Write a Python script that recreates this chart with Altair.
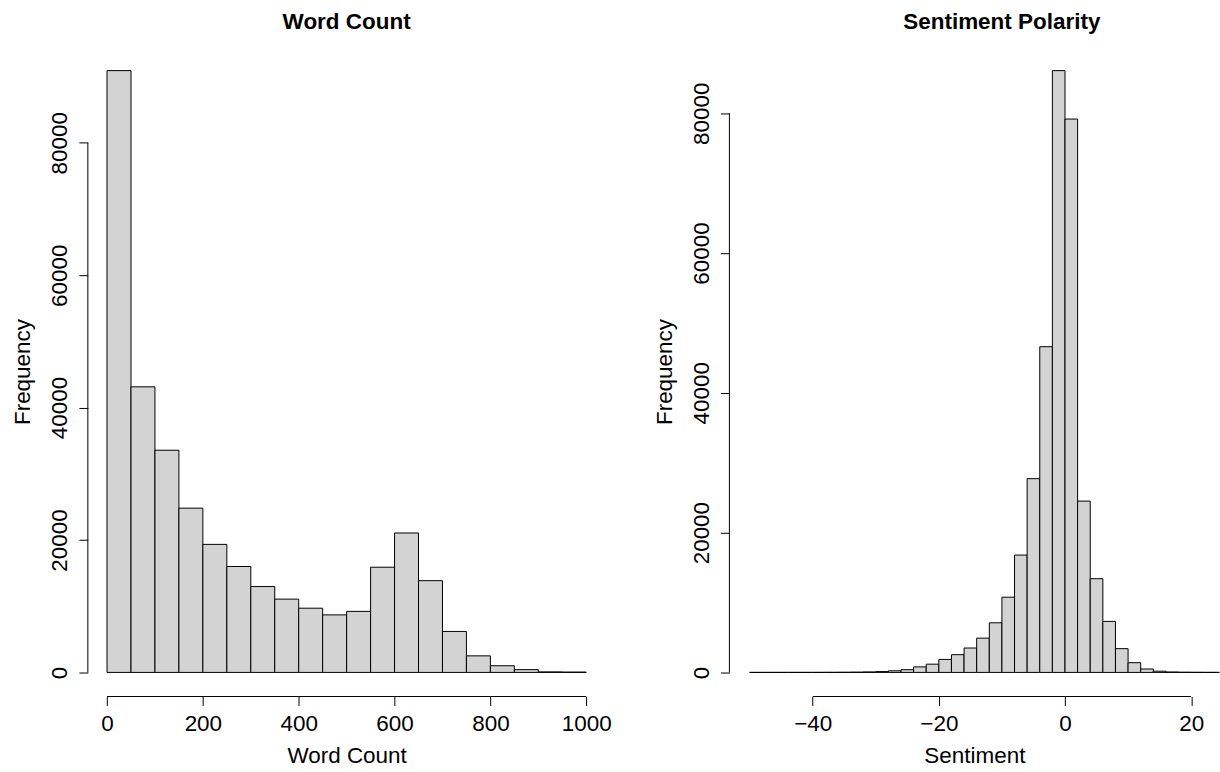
import altair as alt
import pandas as pd

# ---- data ----
wc_breaks = [0, 50, 100, 150, 200, 250, 300, 350, 400, 450, 500,
             550, 600, 650, 700, 750, 800, 850, 900, 950, 1000]
wc_counts = [90900, 43140, 33560, 24810, 19340, 16000, 12970, 11070, 9700, 8690,
             9220, 15890, 21060, 13860, 6190, 2500, 1010, 420, 80, 50]

sent_breaks = [-50, -48, -46, -44, -42, -40, -38, -36, -34, -32, -30, -28, -26,
               -24, -22, -20, -18, -16, -14, -12, -10, -8, -6, -4, -2, 0, 2, 4,
               6, 8, 10, 12, 14, 16, 18, 20, 22, 24, 26]
sent_counts = [3, 4, 5, 6, 8, 10, 15, 25, 40, 70, 120, 230, 390, 790, 1180, 1860,
               2540, 3490, 4900, 7100, 10760, 16790, 27720, 46600, 86100, 79170,
               24510, 13410, 7300, 3400, 1390, 490, 175, 60, 30, 15, 10, 5]

wc_x_ticks = [0, 200, 400, 600, 800, 1000]
sent_x_ticks = [-40, -20, 0, 20]
freq_ticks = [0, 20000, 40000, 60000, 80000]

FONT = "Liberation Sans"
FS = 22.5
FILL = "#d3d3d3"
H = 651


def panel(breaks, counts, xdom, ydom, xticks, title, xtitle, width, title_dx):
    df = pd.DataFrame({"lo": breaks[:-1], "hi": breaks[1:], "n": counts})
    xs = alt.Scale(domain=xdom, nice=False, zero=False)
    ys = alt.Scale(domain=ydom, nice=False, zero=False)
    xaxis = alt.Axis(
        values=xticks, title=xtitle, domain=False, grid=False,
        tickSize=9, tickColor="black", tickWidth=1,
        labelFont=FONT, labelFontSize=FS, labelColor="black",
        labelPadding=7, labelFlush=False, labelOverlap=False, format="d",
        titleFont=FONT, titleFontSize=FS, titleFontWeight="normal",
        titleColor="black", titlePadding=10)
    yaxis = alt.Axis(
        values=freq_ticks, title="Frequency", domain=False, grid=False,
        tickSize=9, tickColor="black", tickWidth=1,
        labelFont=FONT, labelFontSize=FS, labelColor="black",
        labelAngle=270, labelAlign="center", labelBaseline="bottom",
        labelPadding=7, labelOverlap=False, format="d",
        titleFont=FONT, titleFontSize=FS, titleFontWeight="normal",
        titleColor="black", titlePadding=14)
    bars = alt.Chart(df).mark_rect(
        fill=FILL, stroke="black", strokeWidth=1, clip=True
    ).encode(
        x=alt.X("lo:Q", scale=xs, axis=xaxis),
        x2="hi:Q",
        y=alt.Y("n:Q", scale=ys, axis=yaxis),
        y2=alt.datum(0),
    )
    xline = alt.Chart(pd.DataFrame({"lo": [xticks[0]], "hi": [xticks[-1]]})).mark_rule(
        color="black", strokeWidth=1
    ).encode(
        x=alt.X("lo:Q", scale=xs, axis=xaxis), x2="hi:Q", y=alt.value(H)
    )
    yline = alt.Chart(pd.DataFrame({"n": [freq_ticks[0]], "m": [freq_ticks[-1]]})).mark_rule(
        color="black", strokeWidth=1
    ).encode(
        y=alt.Y("n:Q", scale=ys, axis=yaxis), y2="m:Q", x=alt.value(0)
    )
    return alt.layer(bars, xline, yline).properties(
        width=width, height=H,
        title=alt.TitleParams(title, font=FONT, fontSize=FS, fontWeight="bold",
                              color="black", frame="group", baseline="alphabetic",
                              offset=-5, dx=title_dx),
    )


left = panel(wc_breaks, wc_counts, [-40, 1040], [-3636, 94536], wc_x_ticks,
             "Word Count", "Word Count", 518.4, 0)
right = panel(sent_breaks, sent_counts, [-53.2, 24.46], [-3444, 89544], sent_x_ticks,
              "Sentiment Polarity", "Sentiment", 490.7, 27.5)

chart = alt.hconcat(left, right, spacing=123.6, bounds="flush").configure_view(
    stroke=None
).properties(
    padding={"left": 12, "top": 10, "right": 0, "bottom": 0},
    background="white",
)

chart.save("out.html", embed_options={"renderer": "svg", "actions": False})
